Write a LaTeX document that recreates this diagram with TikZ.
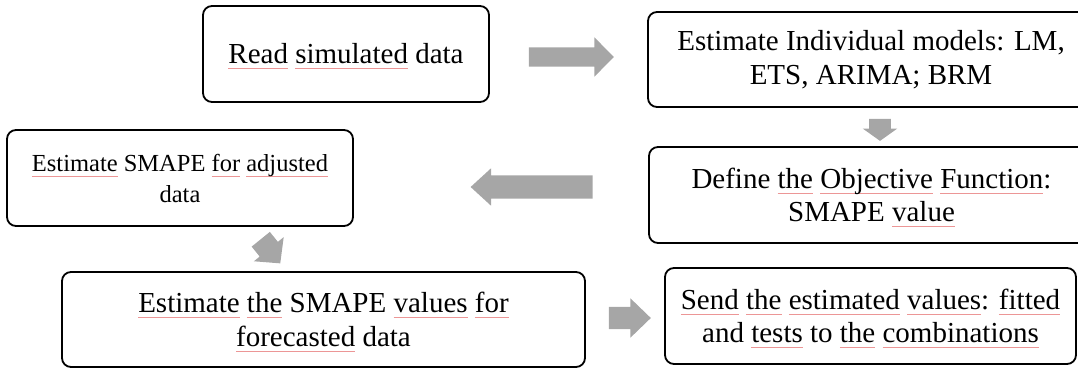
\documentclass[tikz,border=0pt]{standalone}
\usepackage{fontspec}
\setmainfont{Liberation Serif}
\usetikzlibrary{shapes.arrows}
\definecolor{arrowgray}{RGB}{166,166,166}
\definecolor{sqred}{RGB}{236,150,150}
% red proofing underline under a word
\newsavebox\sqbox
\newcommand\sq[1]{\sbox\sqbox{#1}\rlap{\smash{\textcolor{sqred}{\rule[-5.5pt]{\wd\sqbox}{1pt}}}}\usebox\sqbox}
\begin{document}
\begin{tikzpicture}[x=1pt,y=-1pt,
  stepbox/.style={draw=black, line width=1.8pt, rounded corners=9pt, fill=white,
    align=center, inner sep=0pt, font=\fontsize{29}{33.5}\selectfont},
  blockarrow/.style={single arrow, fill=arrowgray, draw=none, inner xsep=0pt,
    minimum width=0pt, single arrow head indent=0pt}]
\useasboundingbox (0,0) rectangle (1078,369);
\clip (0,0) rectangle (1078,369);

% process steps
\node[stepbox, minimum width=286pt, minimum height=96pt] (read) at (346,54)
  {\sq{Read} \sq{simulated} data};
\node[stepbox, minimum width=446pt, minimum height=95pt] (models) at (871,59.5)
  {Estimate Individual models: LM,\\ETS, ARIMA; BRM};
\node[stepbox, minimum width=445pt, minimum height=96pt] (objective) at (871.5,195)
  {Define \sq{the} \sq{Objective} \sq{Function}:\\SMAPE \sq{value}};
\node[stepbox, minimum width=346pt, minimum height=96pt,
  font=\fontsize{24.5}{31}\selectfont] (adjusted) at (180,178)
  {\sq{Estimate} SMAPE \sq{for} \sq{adjusted}\\data};
\node[stepbox, minimum width=523pt, minimum height=95pt] (forecast) at (323.5,319.5)
  {\sq{Estimate} \sq{the} SMAPE \sq{values} \sq{for}\\\sq{forecasted} data};
\node[stepbox, minimum width=411pt, minimum height=96pt] (send) at (870.5,316)
  {\sq{Send} \sq{the} \sq{estimated} \sq{values}: \sq{fitted}\\and \sq{tests} to \sq{the} \sq{combinations}};

% block arrows between the steps
\node[blockarrow, minimum height=85pt, inner ysep=9.5pt,
  single arrow head extend=10pt, single arrow tip angle=91] (a1) at (566.5,57) {};
\node[blockarrow, rotate=-90, minimum height=22pt, inner ysep=10.7pt,
  single arrow head extend=6.3pt, single arrow tip angle=109] (a2) at (880,126) {};
\node[blockarrow, rotate=180, minimum height=122pt, inner ysep=11.5pt,
  single arrow head extend=7pt, single arrow tip angle=85] (a3) at (538,187) {};
\node[blockarrow, rotate=-51, minimum height=31pt, inner ysep=11.5pt,
  single arrow head extend=7.5pt, single arrow tip angle=93] (a4) at (267,247) {};
\node[blockarrow, minimum height=42pt, inner ysep=11pt,
  single arrow head extend=8.5pt, single arrow tip angle=88] (a5) at (624,318) {};
\end{tikzpicture}
\end{document}
